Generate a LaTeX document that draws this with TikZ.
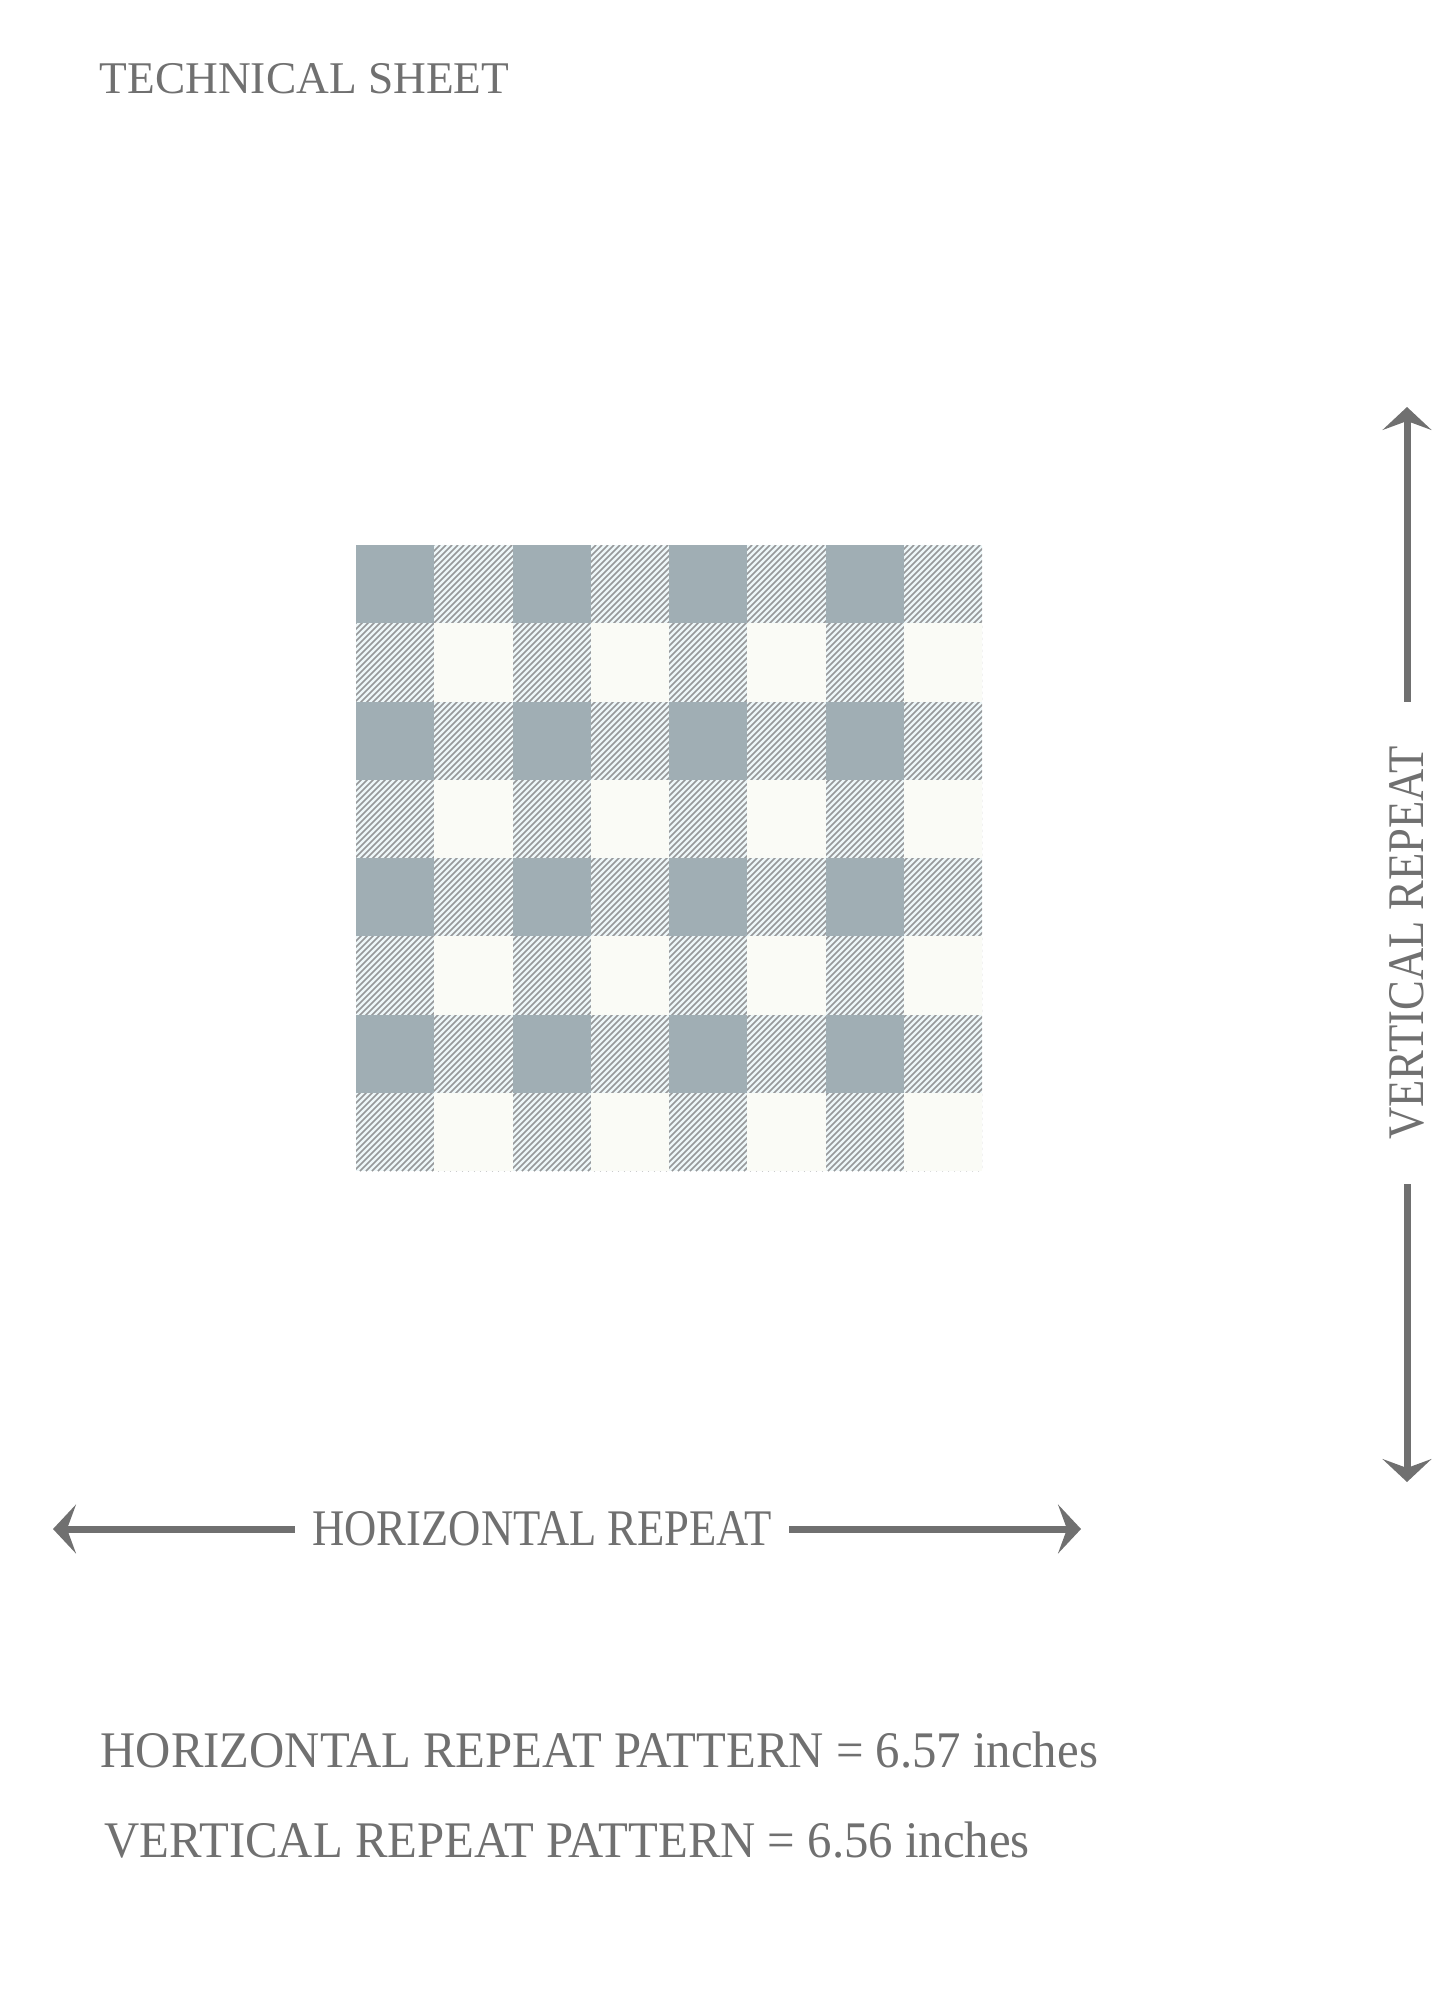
\documentclass[tikz,border=0pt]{standalone}
\usepackage{fontspec}
\setmainfont{Liberation Serif}
\newfontfamily\condfont[FakeStretch=0.87]{Liberation Serif}
\newfontfamily\notefont[FakeStretch=0.95]{Liberation Serif}
\usetikzlibrary{arrows.meta}
\definecolor{sheetgrey}{RGB}{112,112,112}
\definecolor{checkdark}{RGB}{160,174,180}
\definecolor{checklight}{RGB}{250,251,246}
\definecolor{hatchbg}{RGB}{238,247,249}
\definecolor{hatchline}{RGB}{150,152,154}
\tikzset{
  reparrow/.style={sheetgrey, line width=0.07cm, -{Stealth[length=0.23cm,width=0.49cm,inset=0.09cm]}},
  replabel/.style={text=sheetgrey, inner ysep=0pt, font=\condfont\fontsize{14.6}{16}\selectfont},
  notelabel/.style={text=sheetgrey, inner sep=0pt, anchor=base west, font=\notefont\fontsize{14.6}{16}\selectfont},
}
\begin{document}
\begin{tikzpicture}[x=0.01cm,y=-0.01cm]
\useasboundingbox (0,0) rectangle (1455,2000);
\node[notelabel, font=\fontsize{12.9}{15}\selectfont] (title) at (99,94) {TECHNICAL SHEET};
\fill[hatchbg] (356,545) rectangle (982,1171);
\begin{scope}
\clip (356,545) rectangle (982,1171);
\foreach \i in {0,...,210}
  \draw[hatchline, line width=0.45pt] ({-270+6*\i},1171) -- ++(626,-626);
\end{scope}
\foreach \r in {0,2,4,6}
  \foreach \c in {0,2,4,6}
    \fill[checkdark] ({356+\c*78.25},{545+\r*78.25}) rectangle ++(78.25,78.25);
\foreach \r in {1,3,5,7}
  \foreach \c in {1,3,5,7}
    \fill[checklight] ({356+\c*78.25},{545+\r*78.25}) rectangle ++(78.25,78.25);
\node[replabel, inner xsep=0.17cm] (hlab) at (542,1529) {HORIZONTAL REPEAT};
\node[replabel, inner xsep=0.44cm, rotate=90] (vlab) at (1407,943) {VERTICAL REPEAT};
\coordinate (hleft) at (53,1529);
\coordinate (hright) at (1081,1529);
\coordinate (vtop) at (1407,407);
\coordinate (vbot) at (1407,1482);
\draw[reparrow] (hlab.west) -- (hleft);
\draw[reparrow] (hlab.east) -- (hright);
\draw[reparrow] (vlab.east) -- (vtop);
\draw[reparrow] (vlab.west) -- (vbot);
\node[notelabel] (hnote) at (100,1767) {HORIZONTAL REPEAT PATTERN = 6.57 inches};
\node[notelabel] (vnote) at (104,1857) {VERTICAL REPEAT PATTERN = 6.56 inches};
\end{tikzpicture}
\end{document}
